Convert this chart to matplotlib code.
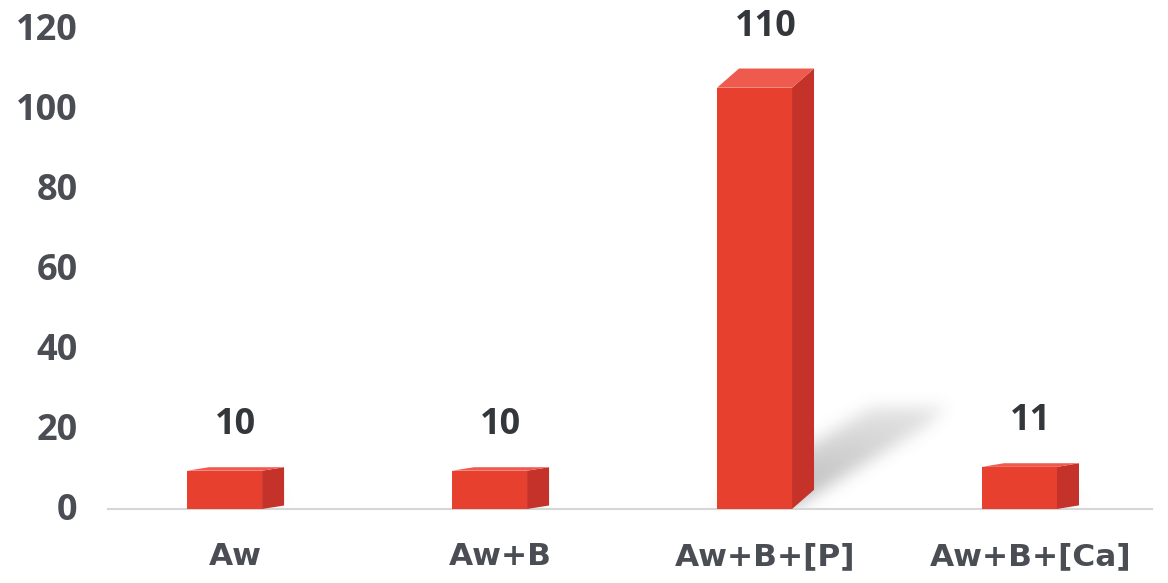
import numpy as np
import matplotlib
matplotlib.use("Agg")
import matplotlib.pyplot as plt
from matplotlib.patches import Polygon, Rectangle
from matplotlib.path import Path
import matplotlib.transforms as mtransforms

categories = ["Aw", "Aw+B", "Aw+B+[P]", "Aw+B+[Ca]"]
values = [10, 10, 110, 11]
yticks = [0, 20, 40, 60, 80, 100, 120]

plt.rcParams["font.family"] = ["Open Sans", "DejaVu Sans"]

FRONT = "#e8402f"
SIDE = "#c4322a"
TOP = "#ee5a4e"
TEXT = "#4a4d53"

W, H, DPI = 1168, 583, 100
PX_PER_UNIT = 3.83          # front plane of the columns
WALL_PX_PER_UNIT = 4.0      # back wall, where the axis labels sit
fig = plt.figure(figsize=(W / DPI, H / DPI), dpi=DPI)
ax_left, ax_right = 108, 1152
ax_bottom = 509                      # pixel row of the baseline
ylim = (0, 125)
ax_top = ax_bottom - ylim[1] * PX_PER_UNIT
ax = fig.add_axes([ax_left / W, (H - ax_bottom) / H,
                   (ax_right - ax_left) / W, (ax_bottom - ax_top) / H])
xlim = (-0.44, 3.5)
ax.set_xlim(*xlim)
ax.set_ylim(*ylim)

# bar geometry (data units)
bw = 0.283          # front face width
dx = 0.083          # depth offset to the right


def depth_dy(v):
    # taller columns show more of their top / side in this view
    return 0.5 + 0.041 * v


# soft floor shadow cast by each column, blurred on a pixel grid
nx, ny = ax_right - ax_left, int(round(ax_bottom - ax_top))
gx = np.linspace(xlim[0], xlim[1], nx)
gy = np.linspace(ylim[1], ylim[0], ny)
XX, YY = np.meshgrid(gx, gy)
pts = np.column_stack([XX.ravel(), YY.ravel()])
shadow = np.zeros(XX.shape)
for i, v in enumerate(values):
    dy = depth_dy(v)
    lx, ly = 0.00455 * v, 0.195 * v
    fl, fr = (i - bw / 2, 0), (i + bw / 2, 0)
    br, bl = (i + bw / 2 + dx, dy), (i - bw / 2 + dx, dy)
    hull = [fl, fr, (fr[0] + lx, fr[1] + ly), (br[0] + lx, br[1] + ly),
            (bl[0] + lx, bl[1] + ly), bl]
    m = Path(hull).contains_points(pts).reshape(XX.shape).astype(float)
    # fade along the length of the shadow
    fade = np.clip(1 - 0.5 * (YY / max(ly, 1e-6)), 0.3, 1)
    shadow = np.maximum(shadow, m * fade)

sig = 8
k = np.exp(-0.5 * (np.arange(-3 * sig, 3 * sig + 1) / sig) ** 2)
k /= k.sum()
shadow = np.apply_along_axis(lambda r: np.convolve(r, k, mode="same"), 1, shadow)
shadow = np.apply_along_axis(lambda c: np.convolve(c, k, mode="same"), 0, shadow)
rgba = np.zeros(shadow.shape + (4,))
rgba[..., :3] = 0.45
rgba[..., 3] = np.clip(shadow * 0.5, 0, 1)
ax.imshow(rgba, extent=(xlim[0], xlim[1], ylim[0], ylim[1]), aspect="auto",
          origin="upper", zorder=1, interpolation="bilinear")

# columns: front, side and top faces
for i, v in enumerate(values):
    dy = depth_dy(v)
    x0, x1 = i - bw / 2, i + bw / 2
    ax.add_patch(Polygon([(x1, 0), (x1 + dx, dy), (x1 + dx, v + dy), (x1, v)],
                         closed=True, facecolor=SIDE, edgecolor="none", zorder=3))
    ax.add_patch(Polygon([(x0, v), (x0 + dx, v + dy), (x1 + dx, v + dy), (x1, v)],
                         closed=True, facecolor=TOP, edgecolor="none", zorder=3))
    ax.add_patch(Rectangle((x0, 0), bw, v, facecolor=FRONT, edgecolor="none", zorder=4))
    ax.annotate(f"{v}", xy=(i + dx / 2, v + dy), xytext=(0, 42),
                textcoords="offset pixels", ha="center", va="center",
                fontsize=26, fontweight="bold", color="#33363b",
                annotation_clip=False, zorder=5)

# axes styling
for s in ["left", "right", "top"]:
    ax.spines[s].set_visible(False)
ax.spines["bottom"].set_color("#d6d6d6")
ax.spines["bottom"].set_linewidth(1.5)
ax.spines["bottom"].set_zorder(2)

ax.set_yticks(yticks)
ax.set_yticklabels([str(t) for t in yticks])
ax.tick_params(axis="y", length=0, pad=22, labelsize=26, labelcolor=TEXT)
# labels live on the back wall, which is drawn slightly taller than the front plane
for t, val in zip(ax.get_yticklabels(), yticks):
    t.set_fontweight("bold")
    lift = 2 + val * (WALL_PX_PER_UNIT - PX_PER_UNIT)
    t.set_transform(t.get_transform() + mtransforms.ScaledTranslation(0, lift / DPI, fig.dpi_scale_trans))

ax.set_xticks([i + dx / 2 for i in range(len(categories))])
ax.set_xticklabels(categories, family=["DejaVu Sans"])
ax.tick_params(axis="x", length=0, pad=24, labelsize=22.5, labelcolor=TEXT)
for t in ax.get_xticklabels():
    t.set_fontweight("bold")

fig.savefig("out.png", dpi=DPI)
